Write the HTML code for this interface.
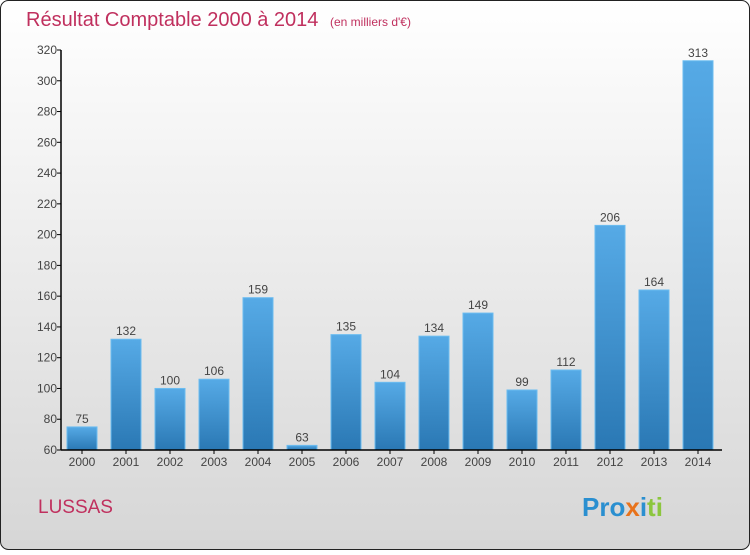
<!DOCTYPE html>
<html><head><meta charset="utf-8"><style>
html,body{margin:0;padding:0;}
body{width:750px;height:550px;overflow:hidden;font-family:"Liberation Sans",sans-serif;}
</style></head><body>
<svg width="750" height="550" xmlns="http://www.w3.org/2000/svg">
<defs>
<linearGradient id="bg" x1="0" y1="0" x2="0" y2="1"><stop offset="0" stop-color="#ffffff"/><stop offset="1" stop-color="#d6d6d6"/></linearGradient>
<linearGradient id="bar" x1="0" y1="0" x2="0" y2="1"><stop offset="0" stop-color="#56aae6"/><stop offset="1" stop-color="#2a78b4"/></linearGradient>
</defs>
<rect x="0.5" y="0.5" width="749" height="549" rx="8" fill="url(#bg)" stroke="#222"/>
<text x="26" y="26" font-size="20" fill="#c0305e">Résultat Comptable 2000 à 2014 <tspan font-size="12" dx="6">(en milliers d'€)</tspan></text>
<g id="yaxis"></g>
<g id="bars"></g>
<g id="xaxis"></g>
<text x="38" y="513" font-size="19" fill="#c0305e">LUSSAS</text>
<text x="582" y="516" font-size="26" font-weight="bold"><tspan fill="#2a8fd0">Pro</tspan><tspan fill="#e8731c">x</tspan><tspan fill="#2a8fd0">i</tspan><tspan fill="#8cc63e">ti</tspan></text>
</svg>
<script>
const years=["2000","2001","2002","2003","2004","2005","2006","2007","2008","2009","2010","2011","2012","2013","2014"];
const values=[75,132,100,106,159,63,135,104,134,149,99,112,206,164,313];
const yTicks=[60,80,100,120,140,160,180,200,220,240,260,280,300,320];
const NS="http://www.w3.org/2000/svg";
const yMin=60,yMax=320,plotTop=50,plotBottom=450,axisX=61;
function y(v){return plotBottom-(v-yMin)/(yMax-yMin)*(plotBottom-plotTop);}
function xc(i){return 82+i*44;}
function mk(tag,attrs,parent,txt){const e=document.createElementNS(NS,tag);for(const k in attrs)e.setAttribute(k,attrs[k]);if(txt!==undefined)e.textContent=txt;parent.appendChild(e);return e;}
const ya=document.getElementById('yaxis'),ba=document.getElementById('bars'),xa=document.getElementById('xaxis');
mk('line',{x1:axisX,y1:plotTop,x2:axisX,y2:plotBottom,stroke:'#000','stroke-width':1.5},ya);
yTicks.forEach(t=>{
 const l=mk('line',{x1:axisX-4,y1:y(t),x2:axisX,y2:y(t),stroke:'#000'},ya);
 
 
 const tx=mk('text',{x:axisX-4,y:y(t)+4,'font-size':12,'text-anchor':'end',fill:'#444'},ya,t);
 
 
});
mk('line',{x1:axisX,y1:plotBottom,x2:722,y2:plotBottom,stroke:'#000','stroke-width':1.5},xa);
years.forEach((yr,i)=>{
 const v=values[i];
 const r=mk('rect',{x:xc(i)-15,y:y(v),width:30,height:plotBottom-y(v),fill:'url(#bar)',stroke:'#6bbcf0','stroke-width':1},ba);
 
 
 const lb=mk('text',{x:xc(i),y:y(v)-4,'font-size':12,'text-anchor':'middle',fill:'#444'},ba,v);
 
 
 const tk=mk('line',{x1:xc(i),y1:plotBottom,x2:xc(i),y2:plotBottom+4,stroke:'#000'},xa);
 
 
 const xl=mk('text',{x:xc(i),y:plotBottom+16,'font-size':12,'text-anchor':'middle',fill:'#444'},xa,yr);
 
 
});
</script>
</body></html>
